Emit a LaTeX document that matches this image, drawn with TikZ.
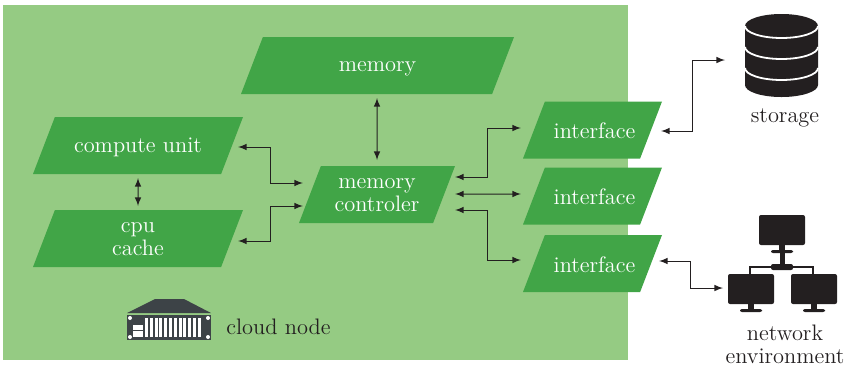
\documentclass[tikz,border=0pt]{standalone}
\usepackage{xcolor}
\usetikzlibrary{shapes.geometric}
\definecolor{nodegreen}{HTML}{95CB83}
\definecolor{boxgreen}{HTML}{41A547}
\definecolor{iconblack}{HTML}{231F20}
\definecolor{servergray}{HTML}{3D4347}
\tikzset{
  >=latex,
}
\tikzstyle{every node}=[font=\fontsize{11.2}{11.5}\selectfont]
\tikzstyle{unit}=[trapezium,trapezium left angle=69,trapezium right angle=111,trapezium stretches body=true,fill=boxgreen,text=white,align=center,inner xsep=0,inner ysep=0,outer sep=0,text height=22.5pt,text depth=6pt]
\tikzstyle{oneline}=[text height=17.5pt,text depth=11pt]
\tikzstyle{iface}=[unit,text height=18.5pt,text depth=10pt,minimum width=69.5pt]
\tikzstyle{link}=[<->,line width=.5pt,iconblack]
\tikzstyle{caption}=[align=center,iconblack,inner sep=0]
\begin{document}
\begin{tikzpicture}[x=.5pt,y=-.5pt]
  \useasboundingbox (0,0) rectangle (845,366);
  \fill[nodegreen] (3,5) rectangle (628,360);
  % units inside the node
  \node[unit,text height=17pt,text depth=11.5pt,minimum width=136.5pt] (memory) at (377.5,65.5) {memory};
  \node[unit,oneline,minimum width=105pt] (compute) at (138,145.5) {compute unit};
  \node[unit,minimum width=105pt] (cache) at (138,238.5) {cpu\\cache};
  \node[unit,minimum width=78pt] (memctl) at (377,194.5) {memory\\controler};
  \node[iface] (iface1) at (592.5,130) {\hspace{2pt}interface};
  \node[iface] (iface2) at (592.5,196) {\hspace{2pt}interface};
  \node[iface] (iface3) at (592.5,263.5) {\hspace{2pt}interface};
  \node[caption,anchor=west] (cloud) at (226,327) {cloud node};
  \node[caption] (storage) at (785,118) {storage};
  \node[caption] (network) at (785,344.5) {network\\environment};
  \coordinate (storagein) at (725,60);
  \coordinate (networkin) at (723,288);
  % connectors
  \draw[link] ([shift={(-.5,4)}]memory.south)--([shift={(0,-6)}]memctl.north);
  \draw[link] ([shift={(0,4)}]compute.south)--([shift={(0,-4)}]cache.north);
  \draw[link] ([shift={(6,1.5)}]compute.east)--++(32,0) |- ([shift={(-7,-11.5)}]memctl.west);
  \draw[link] ([shift={(6,2.5)}]cache.east)--++(32,0) |- ([shift={(-7,11.5)}]memctl.west);
  \draw[link] ([shift={(11,-17.5)}]memctl.east)--++(32,0) |- ([shift={(-13,-2)}]iface1.west);
  \draw[link] ([shift={(11,-.5)}]memctl.east)--([shift={(-13,-2)}]iface2.west);
  \draw[link] ([shift={(11,15.5)}]memctl.east)--++(32,0) |- ([shift={(-13,-3.5)}]iface3.west);
  \draw[link] ([shift={(10,1)}]iface1.east)--++(31,0) |- (storagein);
  \draw[link] ([shift={(8,-2.5)}]iface3.east)--++(31,0) |- (networkin);
  % storage icon
  \fill[iconblack] (745,26) arc[start angle=180,end angle=360,x radius=36.5,y radius=12]
    --(818,85) arc[start angle=0,end angle=180,x radius=36.5,y radius=12]--cycle;
  \foreach \y in {26,47,68}
    \draw[white,line width=.9pt] (745,\y) arc[start angle=180,end angle=0,x radius=36.5,y radius=12];
  % network icon
  \foreach \x/\y in {759/215,728/274,791/274}{
    \fill[iconblack,rounded corners=1pt] (\x,\y) rectangle +(46,30);
    \fill[iconblack] (\x+20,\y+30) rectangle +(6,7);
    \fill[iconblack,rounded corners=1pt] (\x+12,\y+35) rectangle +(22,3);
  }
  \fill[iconblack] (780,252) rectangle (785,266);
  \fill[iconblack,rounded corners=1pt] (771,264) rectangle (793,270);
  \draw[iconblack,line width=1.3pt] (750,274)--(750,267)--(813,267)--(813,274);
  % server icon
  \fill[servergray] (155,299)--(184,299)--(211,313)--(127,313)--cycle;
  \fill[servergray] (127,315) rectangle (211,340);
  \foreach \x/\y in {130/318,208/318,130/337,208/337}
    \fill[white] (\x,\y) circle (2);
  \foreach \i in {0,...,11}
    \fill[white] (145+\i*4.8,318) rectangle +(3,19);
  \fill[white] (133,325) rectangle (143,337);
  \draw[servergray,line width=.4pt] (133,330)--(143,330);
\end{tikzpicture}
\end{document}
